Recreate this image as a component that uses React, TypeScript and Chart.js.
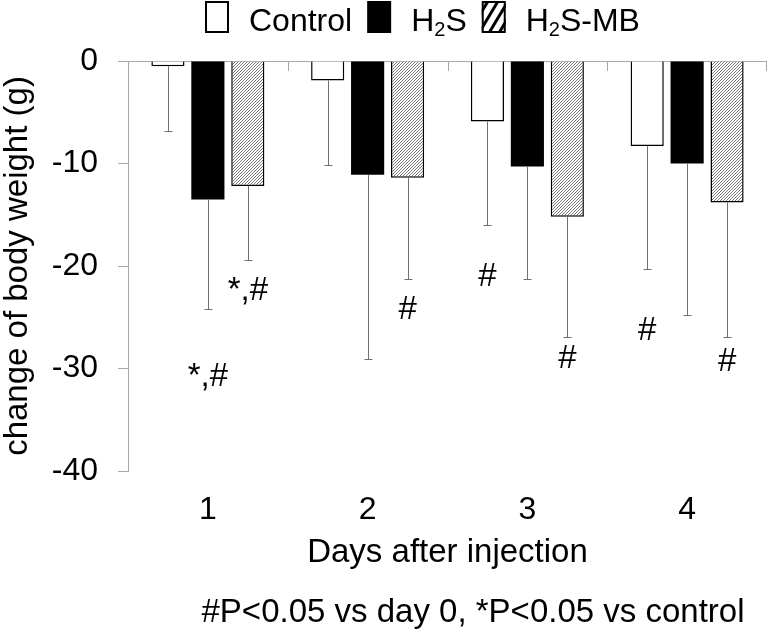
import React, { useEffect, useRef } from "react";
import { Chart, registerables } from "chart.js";
Chart.register(...registerables);

const categories = ["1", "2", "3", "4"];
const controlMean = [-0.5, -1.9, -5.9, -8.3];
const controlSD = [6.3, 8.2, 10.1, 12.0];
const h2sMean = [-13.5, -11.1, -10.3, -10.0];
const h2sSD = [10.7, 18.0, 11.0, 14.8];
const mbMean = [-12.2, -11.4, -15.2, -13.8];
const mbSD = [7.2, 9.9, 11.7, 13.1];
const yTicks = [0, -10, -20, -30, -40];
const seriesNames = ["Control", "H2S", "H2S-MB"];
// legend label pieces (sub = subscript)
const legendParts = [
  [{ t: "Control", sub: false }],
  [{ t: "H", sub: false }, { t: "2", sub: true }, { t: "S", sub: false }],
  [{ t: "H", sub: false }, { t: "2", sub: true }, { t: "S-MB", sub: false }],
];
const annotSeries = [1, 2, 2, 0, 2, 0, 2];
const annotCat = [0, 0, 1, 2, 2, 3, 3];
const annotText = ["*,#", "*,#", "#", "#", "#", "#", "#"];
const annotValue = [-30.8, -22.4, -24.3, -21.1, -29.1, -26.3, -29.4];
const yTitle = "change of body weight (g)";
const xTitle = "Days after injection";
const footnote = "#P<0.05 vs day 0, *P<0.05 vs control";

const FONT = "'Liberation Sans', Arial, sans-serif";
const AXIS_GRAY = "#a8a8a8";
const ERR_GRAY = "#707070";

function makeHatch(): CanvasPattern | string {
  const s = 3;
  const c = document.createElement("canvas");
  c.width = s;
  c.height = s;
  const g = c.getContext("2d");
  if (!g) return "#bbb";
  g.fillStyle = "#ffffff";
  g.fillRect(0, 0, s, s);
  g.strokeStyle = "#6a6a6a";
  g.lineWidth = 0.9;
  g.beginPath();
  g.moveTo(0, s);
  g.lineTo(s, 0);
  g.moveTo(-1, 1);
  g.lineTo(1, -1);
  g.moveTo(s - 1, s + 1);
  g.lineTo(s + 1, s - 1);
  g.stroke();
  const p = g.createPattern(c, "repeat");
  return p || "#bbb";
}

export default function App() {
  const ref = useRef<HTMLCanvasElement | null>(null);

  useEffect(() => {
    if (!ref.current) return;
    const means = [controlMean, h2sMean, mbMean];
    const sds = [controlSD, h2sSD, mbSD];
    const hatch = makeHatch();

    const overlay = {
      id: "overlay",
      afterDatasetsDraw(chart: any) {
        const ctx = chart.ctx as CanvasRenderingContext2D;
        const ys = chart.scales.y;
        const xs = chart.scales.x;
        const area = chart.chartArea;
        ctx.save();
        // error bars (downward only)
        ctx.strokeStyle = ERR_GRAY;
        ctx.lineWidth = 1;
        sds.forEach((sd, di) => {
          const meta = chart.getDatasetMeta(di);
          meta.data.forEach((bar: any, i: number) => {
            const x = Math.round(bar.x) + 0.5;
            const y0 = bar.y;
            const y1 = Math.round(ys.getPixelForValue(means[di][i] - sd[i])) + 0.5;
            ctx.beginPath();
            ctx.moveTo(x, y0);
            ctx.lineTo(x, y1);
            ctx.moveTo(x - 4, y1);
            ctx.lineTo(x + 4, y1);
            ctx.stroke();
          });
        });
        // category separator ticks on the zero line
        ctx.strokeStyle = AXIS_GRAY;
        const y0p = ys.getPixelForValue(0);
        for (let i = 0; i < categories.length; i++) {
          let bx;
          if (i < categories.length - 1) {
            bx = (xs.getPixelForValue(i) + xs.getPixelForValue(i + 1)) / 2;
          } else {
            bx = area.right - 1;
          }
          bx = Math.round(bx) + 0.5;
          ctx.beginPath();
          ctx.moveTo(bx, y0p);
          ctx.lineTo(bx, y0p + 10);
          ctx.stroke();
        }
        // significance annotations
        ctx.fillStyle = "#000";
        ctx.font = `33px ${FONT}`;
        ctx.textAlign = "center";
        ctx.textBaseline = "middle";
        annotText.forEach((t, k) => {
          const bar = chart.getDatasetMeta(annotSeries[k]).data[annotCat[k]];
          ctx.fillText(t, bar.x, ys.getPixelForValue(annotValue[k]));
        });
        ctx.restore();
      },
      afterDraw(chart: any) {
        const ctx = chart.ctx as CanvasRenderingContext2D;
        ctx.save();
        // legend
        let x = 205;
        const boxTop = 1;
        const boxW = 24;
        const boxH = 32;
        const baseline = 31;
        legendParts.forEach((parts, i) => {
          ctx.lineWidth = 2;
          ctx.strokeStyle = "#000";
          if (i === 0) {
            ctx.fillStyle = "#fff";
            ctx.fillRect(x, boxTop, boxW, boxH);
            ctx.strokeRect(x + 1, boxTop + 1, boxW - 2, boxH - 2);
          } else if (i === 1) {
            ctx.fillStyle = "#000";
            ctx.fillRect(x, boxTop, boxW, boxH);
          } else {
            ctx.fillStyle = "#fff";
            ctx.fillRect(x, boxTop, boxW, boxH);
            ctx.save();
            ctx.beginPath();
            ctx.rect(x, boxTop, boxW, boxH);
            ctx.clip();
            ctx.lineWidth = 3;
            for (let k = -2; k < 6; k++) {
              const off = k * 10;
              ctx.beginPath();
              ctx.moveTo(x + off - 4, boxTop + boxH + 2);
              ctx.lineTo(x + off + 20, boxTop - 6);
              ctx.stroke();
            }
            ctx.restore();
            ctx.lineWidth = 2;
            ctx.strokeRect(x + 1, boxTop + 1, boxW - 2, boxH - 2);
          }
          let tx = x + boxW + 20;
          ctx.fillStyle = "#000";
          ctx.textAlign = "left";
          ctx.textBaseline = "alphabetic";
          parts.forEach((p) => {
            if (p.sub) {
              ctx.font = `20px ${FONT}`;
              ctx.fillText(p.t, tx, baseline + 5);
            } else {
              ctx.font = `32px ${FONT}`;
              ctx.fillText(p.t, tx, baseline);
            }
            tx += ctx.measureText(p.t).width;
          });
          x = tx + 15;
        });
        // footnote
        ctx.font = `33px ${FONT}`;
        ctx.textAlign = "center";
        ctx.textBaseline = "middle";
        ctx.fillStyle = "#000";
        ctx.fillText(footnote, 473, 613);
        ctx.restore();
      },
    };

    const chart = new Chart(ref.current, {
      type: "bar",
      data: {
        labels: categories,
        datasets: [
          {
            label: seriesNames[0],
            data: controlMean,
            backgroundColor: "#ffffff",
            borderColor: "#000000",
            borderWidth: 1.5,
          },
          {
            label: seriesNames[1],
            data: h2sMean,
            backgroundColor: "#000000",
            borderColor: "#000000",
            borderWidth: 0,
          },
          {
            label: seriesNames[2],
            data: mbMean,
            backgroundColor: hatch as any,
            borderColor: "#000000",
            borderWidth: 1.5,
          },
        ],
      },
      options: {
        animation: false,
        responsive: true,
        maintainAspectRatio: false,
        datasets: {
          bar: { categoryPercentage: 0.75, barPercentage: 0.83 },
        },
        layout: { padding: { top: 61, right: 1, bottom: 68, left: 0 } },
        plugins: {
          legend: { display: false },
          tooltip: { enabled: false },
        },
        scales: {
          x: {
            position: "bottom",
            grid: { display: false, drawTicks: false },
            border: { display: false },
            ticks: {
              color: "#000",
              font: { family: FONT, size: 32 },
              padding: 20,
            },
            title: {
              display: true,
              text: xTitle,
              color: "#000",
              font: { family: FONT, size: 33 },
              padding: 0,
            },
            afterFit: (scale: any) => {
              scale.height = 102;
            },
          },
          y: {
            min: -40,
            max: 0,
            grid: {
              color: (c: any) => (c.tick && c.tick.value === 0 ? AXIS_GRAY : "rgba(0,0,0,0)"),
              tickColor: AXIS_GRAY,
              tickLength: 10,
              drawTicks: true,
              lineWidth: 1,
            },
            border: { display: true, color: AXIS_GRAY, width: 1 },
            afterBuildTicks: (scale: any) => {
              scale.ticks = yTicks.map((v) => ({ value: v }));
            },
            ticks: {
              color: "#000",
              font: { family: FONT, size: 32 },
              padding: 20,
              callback: (v: any) => String(v),
            },
            title: {
              display: true,
              text: yTitle,
              color: "#000",
              font: { family: FONT, size: 33, lineHeight: 1.1 },
              padding: 0,
            },
            afterFit: (scale: any) => {
              scale.width = 128;
            },
          },
        },
      },
      plugins: [overlay],
    });
    return () => chart.destroy();
  }, []);

  return (
    <div style={{ position: "absolute", left: 0, top: 0, width: 768, height: 641, background: "#fff" }}>
      <canvas ref={ref} />
    </div>
  );
}
